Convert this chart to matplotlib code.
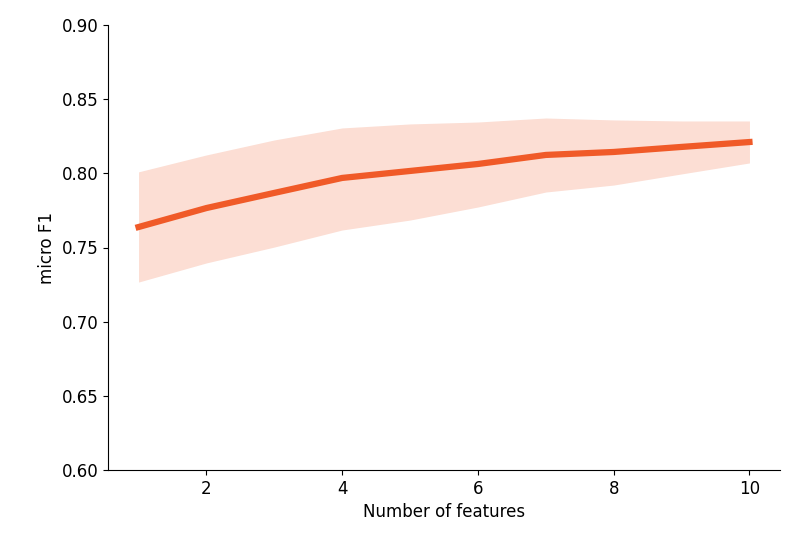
import matplotlib
matplotlib.use("Agg")
import matplotlib.pyplot as plt

n_features = [1, 2, 3, 4, 5, 6, 7, 8, 9, 10]
mean_f1 = [0.7638, 0.7766, 0.7868, 0.7969, 0.8016, 0.8063, 0.8124, 0.8144, 0.8178, 0.8211]
upper_f1 = [0.801, 0.8124, 0.8225, 0.8306, 0.8333, 0.8346, 0.8373, 0.836, 0.8353, 0.8353]
lower_f1 = [0.7267, 0.7396, 0.7503, 0.7618, 0.7685, 0.7773, 0.7874, 0.7921, 0.7996, 0.807]

fig = plt.figure(figsize=(7.98, 5.45), dpi=100)
ax = fig.add_axes([108/798, 1-470/545, (780-108)/798, (470-25)/545])
ax.fill_between(n_features, lower_f1, upper_f1, color="#f05a28", alpha=0.2, linewidth=0)
ax.plot(n_features, mean_f1, color="#f05a28", linewidth=4.5)
ax.set_ylim(0.60, 0.90)
ax.set_xticks([2, 4, 6, 8, 10])
ax.set_xlabel("Number of features", fontsize=12)
ax.set_ylabel("micro F1", fontsize=12)
ax.tick_params(labelsize=12)
ax.spines["top"].set_visible(False)
ax.spines["right"].set_visible(False)
fig.savefig("out.png", dpi=100)
